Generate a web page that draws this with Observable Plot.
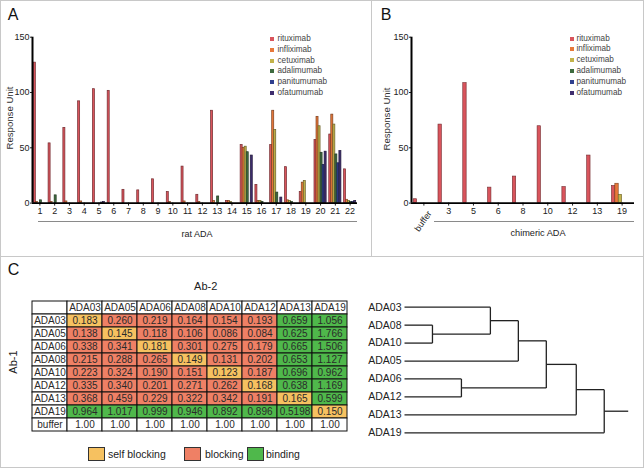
<!DOCTYPE html>
<html><head><meta charset="utf-8">
<script src="https://cdn.jsdelivr.net/npm/d3@7"></script>
<script src="https://cdn.jsdelivr.net/npm/@observablehq/plot@0.6"></script>
<style>
html,body{margin:0;padding:0;background:#fff}
#fig{position:relative;width:644px;height:468px;overflow:hidden;background:#fff}
#fig > div{position:absolute}
</style></head><body><div id="fig"></div>
<script>
// ---------- data ----------
const series = ["rituximab","infliximab","cetuximab","adalimumab","panitumumab","ofatumumab"];
const seriesColors = ["#d9545c","#e8783a","#c3b34a","#3e6b3e","#2f3f8f","#3f2e6e"];

// Panel A: rat ADA
const ratLabels = ["1","2","3","4","5","6","7","8","9","10","11","12","13","14","15","16","17","18","19","20","21","22"];
const ratRituximab   = [127, 54, 68, 92, 103, 101.5, 12, 11.5, 21.5, 10, 33, 7.5, 83.5, 2, 52.5, 16.5, 52.5, 32.5, 10, 57, 62, 30.5];
const ratInfliximab  = [1, 1, 1.5, 1.5, 0, 0, 0, 0, 0, 1, 1.5, 1, 2, 2, 50, 2, 83.5, 2.5, 18.5, 78, 80, 3];
const ratCetuximab   = [0, 0, 0, 0, 0, 0, 0, 0, 0, 0, 0, 0, 0, 1, 51, 2, 66, 2, 20, 69.5, 71, 2];
const ratAdalimumab  = [2.5, 7, 0, 0, 0, 0, 0, 0, 0, 0, 0, 0, 6, 0, 46, 1, 9.5, 1, 0, 45.5, 44, 1];
const ratPanitumumab = [0, 0, 0, 0, 0.5, 0, 0, 0, 0, 0, 0, 0, 0, 0, 0, 0, 0, 0, 0, 34.5, 36, 1];
const ratOfatumumab  = [0, 0, 0, 0, 1, 0, 0, 0, 0, 0, 0, 0, 0, 0, 43, 0, 5, 0, 0, 46.5, 47, 2];

// Panel B: chimeric ADA
const chiLabels = ["buffer","3","5","6","8","10","12","13","19"];
const chiRituximab   = [3.5, 71, 108.5, 14, 24, 69.5, 14.5, 43, 15.5];
const chiInfliximab  = [0, 0, 0, 0, 0, 0, 0, 0, 17.5];
const chiCetuximab   = [0, 0, 0, 0, 0, 0, 0, 0, 7.5];
const chiAdalimumab  = [0, 0, 0, 0, 0, 0, 0, 0, 0];
const chiPanitumumab = [0, 0, 0, 0, 0, 0, 0, 0, 0];
const chiOfatumumab  = [0, 0, 0, 0, 0, 0, 0, 0, 0];

// Panel C: competition table
const colLabels = ["ADA03","ADA05","ADA06","ADA08","ADA10","ADA12","ADA13","ADA19"];
const rowLabels = ["ADA03","ADA05","ADA06","ADA08","ADA10","ADA12","ADA13","ADA19","buffer"];
const tableValues = [
  ["0.183","0.260","0.219","0.164","0.154","0.193","0.659","1.056"],
  ["0.138","0.145","0.118","0.106","0.086","0.084","0.625","1.766"],
  ["0.338","0.341","0.181","0.301","0.275","0.179","0.665","1.506"],
  ["0.215","0.288","0.265","0.149","0.131","0.202","0.653","1.127"],
  ["0.223","0.324","0.190","0.151","0.123","0.187","0.696","0.962"],
  ["0.335","0.340","0.201","0.271","0.262","0.168","0.638","1.169"],
  ["0.368","0.459","0.229","0.322","0.342","0.191","0.165","0.599"],
  ["0.964","1.017","0.999","0.946","0.892","0.896","0.5198","0.150"],
  ["1.00","1.00","1.00","1.00","1.00","1.00","1.00","1.00"]
];
const categoryNames = ["self blocking","blocking","binding"];
const categoryColors = ["#f6c160","#ef8065","#4fb84b"];

// Dendrogram
const leafOrder = ["ADA03","ADA08","ADA10","ADA05","ADA06","ADA12","ADA13","ADA19"];
const mergeLeft   = ["ADA08","ADA03","n1","ADA06","n2","n4","n5"];
const mergeRight  = ["ADA10","n0","ADA05","ADA12","n3","ADA13","ADA19"];
const mergeHeight = [28, 86, 114, 57, 142, 172, 200];
const rootHeight = 224;

// ---------- helpers ----------
const FONT = "'Liberation Sans', Arial, sans-serif";
const fig = document.getElementById("fig");

function place(node, left, top) {
  const d = document.createElement("div");
  d.style.left = left + "px"; d.style.top = top + "px";
  d.appendChild(node); fig.appendChild(d); return d;
}
function txt(t, x, y, o = {}) {
  const {size = 10, anchor = "start", rotate = 0, color = "#222", family = FONT, origin = null} = o;
  const el = document.createElement("div");
  el.textContent = t;
  const tx = anchor === "middle" ? "-50%" : anchor === "end" ? "-100%" : "0";
  el.style.cssText = `left:${x}px;top:${y}px;font-family:${family};font-size:${size}px;color:${color};white-space:nowrap;line-height:1;`;
  if (origin) el.style.transformOrigin = origin;
  el.style.transform = `translate(${tx},-50%) rotate(${rotate}deg)`;
  fig.appendChild(el); return el;
}
function box(x, y, w, h, css) {
  const el = document.createElement("div");
  el.style.cssText = `left:${x}px;top:${y}px;width:${w}px;height:${h}px;box-sizing:border-box;${css}`;
  fig.appendChild(el); return el;
}

// ---------- panel borders ----------
box(0, 0, 644, 468, "border:1px solid #c8c8c8;");
box(371, 0, 1, 257, "background:#c8c8c8;");
box(0, 256, 644, 1, "background:#c8c8c8;");

// ---------- bar charts ----------
const BW = 0.137;
function barChart(seriesVals, labels, first, width, marginLeft, marginRight, hideFirst, strokeW) {
  const rows = seriesVals.flatMap((vals, s) => vals.map((v, i) => ({g: first + i, s, v})));
  const n = labels.length, lo = first - 0.5, hi = first + n - 0.5;
  return Plot.plot({
    width, height: 256, marginLeft, marginRight, marginTop: 36.7, marginBottom: 53.4,
    style: `font-family:${FONT};font-size:9px;color:#222;background:transparent;overflow:visible`,
    x: {domain: [lo, hi], ticks: d3.range(first, first + n),
        tickFormat: d => (hideFirst && d === first) ? "" : labels[d - first],
        tickSize: 3, tickPadding: 1.5, label: null},
    y: {domain: [0, 150], ticks: [0, 50, 100, 150], tickSize: 2, tickPadding: 1, label: null},
    marks: [
      ...series.map((name, s) => Plot.rect(rows.filter(d => d.s === s), {
        x1: d => d.g + (s - 3) * BW, x2: d => d.g + (s - 2) * BW, y1: 0, y2: "v",
        fill: seriesColors[s], stroke: d3.color(seriesColors[s]).darker(1.8).formatHex(), strokeWidth: strokeW
      })),
      Plot.ruleY([0], {x1: lo, x2: hi, stroke: "#000", strokeWidth: 1.8}),
      Plot.ruleX([lo], {y1: 0, y2: 150, stroke: "#000", strokeWidth: 2})
    ]
  });
}

place(barChart([ratRituximab, ratInfliximab, ratCetuximab, ratAdalimumab, ratPanitumumab, ratOfatumumab],
  ratLabels, 1, 372, 32, 15, false, 0.7), 0, 0);
place(barChart([chiRituximab, chiInfliximab, chiCetuximab, chiAdalimumab, chiPanitumumab, chiOfatumumab],
  chiLabels, 0, 272, 39, 10, true, 0.6), 372, 0);

// legends A and B
function seriesLegend(sx, tx, y0, dy) {
  series.forEach((s, i) => {
    box(sx, y0 + i * dy - 2, 4, 4, `background:${seriesColors[i]};`);
    txt(s, tx, y0 + i * dy, {size: 8.2, color: "#444"});
  });
}
seriesLegend(269.5, 277.5, 39, 10.8);
seriesLegend(569.5, 576.5, 38.5, 10.95);

// panel texts
txt("A", 13, 14.5, {size: 16, anchor: "middle", color: "#111"});
txt("B", 386, 14.5, {size: 16, anchor: "middle", color: "#111"});
txt("C", 13.5, 269.5, {size: 16, anchor: "middle", color: "#111"});
txt("Response Unit", 10, 118, {size: 9.6, anchor: "middle", rotate: -90, color: "#333"});
txt("Response Unit", 386.5, 119, {size: 9.6, anchor: "middle", rotate: -90, color: "#333"});
box(37.5, 221, 319, 1, "background:#8a8a8a;");
txt("rat ADA", 197, 234, {size: 9, anchor: "middle"});
box(434, 221, 200, 1, "background:#8a8a8a;");
txt("chimeric ADA", 538, 233.5, {size: 9.2, anchor: "middle"});
txt(chiLabels[0], 430, 212, {size: 9, anchor: "end", rotate: -55, origin: "100% 50%"});

// ---------- table ----------
const cells = [];
for (let r = 0; r <= rowLabels.length; r++) {
  for (let c = 0; c <= colLabels.length; c++) {
    let label = "", fill = "#ffffff";
    if (r === 0 && c > 0) label = colLabels[c - 1];
    else if (c === 0 && r > 0) label = rowLabels[r - 1];
    else if (r > 0 && c > 0) {
      label = tableValues[r - 1][c - 1];
      const rl = rowLabels[r - 1], cl = colLabels[c - 1];
      if (rl === "buffer") fill = "#ffffff";
      else if (rl === cl) fill = categoryColors[0];
      else fill = +label >= 0.5 ? categoryColors[2] : categoryColors[1];
    }
    cells.push({r, c, label, fill});
  }
}
place(Plot.plot({
  width: 360, height: 211, marginLeft: 31.7, marginRight: 13.3, marginTop: 39.7, marginBottom: 32,
  style: `font-family:${FONT};font-size:10px;background:transparent;overflow:visible`,
  x: {domain: d3.range(colLabels.length + 1), padding: 0, axis: null},
  y: {domain: d3.range(rowLabels.length + 1), padding: 0, axis: null},
  color: {type: "identity"},
  marks: [
    Plot.cell(cells, {x: "c", y: "r", fill: "fill", stroke: "#111", strokeWidth: 1, inset: 0}),
    Plot.text(cells, {x: "c", y: "r", text: "label", fill: "#2a2a2a", fontSize: 10})
  ]
}), 0, 257);
txt("Ab-2", 205.7, 286, {size: 11, anchor: "middle"});
txt("Ab-1", 13, 362, {size: 11, anchor: "middle", rotate: -90});

// legend C
[[88, 108], [184, 205], [246.5, 266]].forEach(([bx, tx], i) => {
  box(bx, 446.7, 17, 14.5, `background:${categoryColors[i]};border:1px solid #333;`);
  txt(categoryNames[i], tx, 454, {size: 10.5, color: "#222"});
});

// ---------- dendrogram ----------
const pos = {};
leafOrder.forEach((l, i) => pos[l] = {h: 0, y: i});
const segs = [];
mergeLeft.forEach((L, k) => {
  const a = pos[L], b = pos[mergeRight[k]], h = mergeHeight[k];
  segs.push({x1: a.h, x2: h, y1: a.y, y2: a.y});
  segs.push({x1: b.h, x2: h, y1: b.y, y2: b.y});
  segs.push({x1: h, x2: h, y1: a.y, y2: b.y});
  pos["n" + k] = {h, y: (a.y + b.y) / 2};
});
const root = pos["n" + (mergeLeft.length - 1)];
segs.push({x1: root.h, x2: rootHeight, y1: root.y, y2: root.y});

place(Plot.plot({
  width: 284, height: 211, marginLeft: 44, marginRight: 16.3, marginTop: 49.7, marginBottom: 35.7,
  style: `font-family:${FONT};font-size:10.5px;color:#222;background:transparent;overflow:visible`,
  x: {domain: [0, rootHeight], axis: null},
  y: {domain: [0, leafOrder.length - 1], reverse: true, axis: null},
  marks: [
    Plot.link(segs, {x1: "x1", y1: "y1", x2: "x2", y2: "y2", stroke: "#222", strokeWidth: 1.3}),
    Plot.text(leafOrder, {x: 0, y: (d, i) => i, text: d => d, textAnchor: "end", dx: -3, fill: "#222", fontSize: 10.5})
  ]
}), 360, 257);
</script></body></html>
